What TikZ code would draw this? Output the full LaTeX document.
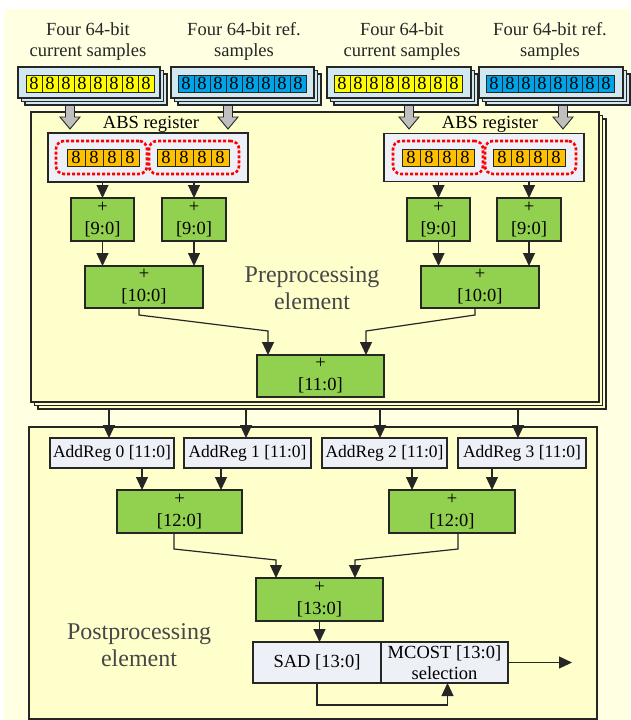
\documentclass[tikz,border=0pt]{standalone}
\usepackage{fontspec}
\setmainfont{Liberation Serif}
\usetikzlibrary{arrows.meta,calc}
\definecolor{bgout}{HTML}{FFFFE2}
\definecolor{bgin}{HTML}{FFFFCC}
\definecolor{smpbox}{HTML}{D2E8F0}
\definecolor{ycell}{HTML}{FFFF00}
\definecolor{bcell}{HTML}{00A2E8}
\definecolor{ocell}{HTML}{FFC000}
\definecolor{regfill}{HTML}{EEF0F7}
\definecolor{grn}{HTML}{92D050}
\definecolor{garr}{HTML}{BFBFBF}
\definecolor{edgec}{HTML}{262626}
\definecolor{lbl}{HTML}{474747}
\newcommand\grayarrow[1]{%
  \draw[draw=edgec,fill=garr,line width=0.9pt] (#1-4.5,96) -- (#1+4.5,96) -- (#1+4.5,117) -- (#1+10,117) -- (#1,129) -- (#1-10,117) -- (#1-4.5,117) -- cycle;}
\begin{document}
\begin{tikzpicture}[x=1pt,y=-1pt,
  line/.style={draw=edgec,line width=1.2pt},
  arr/.style={line,-{Triangle[length=13pt,width=12pt]}},
  box/.style={draw=edgec,line width=1.2pt,inner sep=0pt,outer sep=0pt,align=center},
  gbox/.style={box,fill=grn,font=\fontsize{18.5}{22}\selectfont},
  rbox/.style={box,fill=regfill,font=\fontsize{17.5}{21}\selectfont},
  smp/.style={box,fill=smpbox,minimum height=31pt},
  cell/.style={draw=edgec,line width=0.9pt,inner sep=0pt,outer sep=0pt,minimum height=17pt,font=\fontsize{18.5}{18}\selectfont},
  reddash/.style={draw=red,line width=2.6pt,dash pattern=on 3pt off 2pt,rounded corners=8pt,inner sep=0pt,minimum height=33pt},
  title/.style={align=center,font=\fontsize{18.5}{21}\selectfont,text=black!85},
  biglbl/.style={align=center,font=\fontsize{24}{27}\selectfont,text=lbl},
  pe/.style={box,fill=bgin,minimum width=568pt,minimum height=290pt}
]
\useasboundingbox (0,0) rectangle (630,720);
\fill[bgout] (4,9) rectangle (630,720);

% titles
\node[title] (t1) at (88,41.5) {Four 64-bit\\current samples};
\node[title] (t2) at (244,41.5) {Four 64-bit ref.\\samples};
\node[title] (t3) at (402,41.5) {Four 64-bit\\current samples};
\node[title] (t4) at (550,41.5) {Four 64-bit ref.\\samples};

% preprocessing element stack
\node[pe] (peb2) at (322,264) {};
\node[pe] (peb1) at (318.5,260.5) {};
\node[pe] (pe) at (315,257) {};

% gray arrows
\grayarrow{70}
\grayarrow{228}
\grayarrow{409}
\grayarrow{563}

% sample stacks
\foreach \nm/\cx/\w in {cl/89/142, rl/242.5/143, cr/399/144, rr/551/144}{
  \node[smp,minimum width=\w pt] (\nm b2) at (\cx+7,89.5) {};
  \node[smp,minimum width=\w pt] (\nm b1) at (\cx+3.5,86) {};
  \node[smp,minimum width=\w pt] (\nm) at (\cx,82.5) {};
}
\foreach \nm/\xs/\col in {cl/26/ycell, rl/178/bcell, cr/334/ycell, rr/486/bcell}{
  \foreach \i in {0,...,7}{
    \node[cell,fill=\col,minimum width=16pt] (\nm c\i) at (\xs+8+16*\i,83.5) {8};
  }
}

% ABS registers
\node[font=\fontsize{18.5}{21}\selectfont] (absl) at (151,124) {ABS register};
\node[font=\fontsize{18.5}{21}\selectfont] (absr) at (490,124) {ABS register};
\node[box,fill=regfill,minimum width=200pt,minimum height=49pt] (al) at (148,157.5) {};
\node[box,fill=regfill,minimum width=200pt,minimum height=48pt] (ar) at (484,157.5) {};
\node[reddash,minimum width=91pt] (d1) at (101.5,157.5) {};
\node[reddash,minimum width=90pt] (d2) at (194,157.5) {};
\node[reddash,minimum width=90pt] (d3) at (438,157.5) {};
\node[reddash,minimum width=91pt] (d4) at (530.5,157.5) {};
\foreach \nm/\xs in {o1/67, o2/157, o3/402, o4/493}{
  \foreach \i in {0,...,3}{
    \node[cell,fill=ocell,minimum width=18pt] (\nm c\i) at (\xs+9+18*\i,157.5) {8};
  }
}

% adders 9:0
\node[gbox,minimum width=63pt,minimum height=43pt] (n9a) at (102.5,219.5) {+\\{}[9:0]};
\node[gbox,minimum width=64pt,minimum height=43pt] (n9b) at (194,219.5) {+\\{}[9:0]};
\node[gbox,minimum width=63pt,minimum height=43pt] (n9c) at (438.5,219.5) {+\\{}[9:0]};
\node[gbox,minimum width=64pt,minimum height=43pt] (n9d) at (529,219.5) {+\\{}[9:0]};
\draw[arr] (n9a.north |- al.south) -- (n9a.north);
\draw[arr] (n9b.north |- al.south) -- (n9b.north);
\draw[arr] (n9c.north |- ar.south) -- (n9c.north);
\draw[arr] (n9d.north |- ar.south) -- (n9d.north);

% adders 10:0
\node[gbox,minimum width=118pt,minimum height=42pt] (n10a) at (144,287) {+\\{}[10:0]};
\node[gbox,minimum width=118pt,minimum height=42pt] (n10b) at (480,287) {+\\{}[10:0]};
\draw[arr] (n9a.south) -- (n9a.south |- n10a.north);
\draw[arr] (n9b.south) -- (n9b.south |- n10a.north);
\draw[arr] (n9c.south) -- (n9c.south |- n10b.north);
\draw[arr] (n9d.south) -- (n9d.south |- n10b.north);

% adder 11:0
\node[gbox,minimum width=127pt,minimum height=42pt] (n11) at (320.5,376) {+\\{}[11:0]};
\draw[arr] ($(n10a.south)+(-5,0)$) -- ++(0,7) -- ($(n11.north)+(-52.5,-24)$) -- ($(n11.north)+(-52.5,0)$);
\draw[arr] ($(n10b.south)+(-5,0)$) -- ++(0,7) -- ($(n11.north)+(45.5,-24)$) -- ($(n11.north)+(45.5,0)$);

\node[biglbl] (prelbl) at (312,288.5) {Preprocessing\\element};

% postprocessing element
\node[box,fill=bgin,minimum width=568pt,minimum height=292pt] (post) at (313,573) {};
\node[rbox,minimum width=124pt,minimum height=30pt] (r0) at (112,453) {AddReg 0 [11:0]};
\node[rbox,minimum width=127pt,minimum height=30pt] (r1) at (247.5,453) {AddReg 1 [11:0]};
\node[rbox,minimum width=125pt,minimum height=30pt] (r2) at (384.5,453) {AddReg 2 [11:0]};
\node[rbox,minimum width=128pt,minimum height=30pt] (r3) at (522,453) {AddReg 3 [11:0]};
\coordinate (s0) at (109,0);
\coordinate (s1) at (246,0);
\coordinate (s2) at (380,0);
\coordinate (s3) at (518,0);
\draw[arr] (s0 |- peb2.south) -- (s0 |- r0.north);
\draw[arr] (s1 |- peb2.south) -- (s1 |- r1.north);
\draw[arr] (s2 |- peb2.south) -- (s2 |- r2.north);
\draw[arr] (s3 |- peb2.south) -- (s3 |- r3.north);

\node[gbox,minimum width=125pt,minimum height=43pt] (n12a) at (179.5,511.5) {+\\{}[12:0]};
\node[gbox,minimum width=126pt,minimum height=43pt] (n12b) at (452,511.5) {+\\{}[12:0]};
\coordinate (u0) at (142,0);
\coordinate (u1) at (221,0);
\coordinate (u2) at (412,0);
\coordinate (u3) at (492,0);
\draw[arr] (u0 |- r0.south) -- (u0 |- n12a.north);
\draw[arr] (u1 |- r1.south) -- (u1 |- n12a.north);
\draw[arr] (u2 |- r2.south) -- (u2 |- n12b.north);
\draw[arr] (u3 |- r3.south) -- (u3 |- n12b.north);

\node[gbox,minimum width=127pt,minimum height=43pt] (n13) at (319.5,599.5) {+\\{}[13:0]};
\draw[arr] ($(n12a.south)+(-5.5,0)$) -- ++(0,16) -- ($(n13.north)+(-43.5,-18)$) -- ($(n13.north)+(-43.5,0)$);
\draw[arr] ($(n12b.south)+(6,0)$) -- ++(0,16) -- ($(n13.north)+(35.5,-18)$) -- ($(n13.north)+(35.5,0)$);

\node[rbox,minimum width=128pt,minimum height=41pt,font=\fontsize{18.5}{21}\selectfont] (sad) at (317,662.5) {SAD [13:0]};
\node[rbox,minimum width=127pt,minimum height=41pt,font=\fontsize{18.5}{21}\selectfont] (mcost) at (444.5,662.5) {MCOST [13:0]\\selection};
\draw[arr] (n13.south) -- (n13.south |- sad.north);
\coordinate (out) at (572,662.5);
\draw[arr] (mcost.east) -- (out);
\draw[arr] (sad.south) -- ++(0,22) -| ($(mcost.south)+(3,0)$);

\node[biglbl] (postlbl) at (139,645.5) {Postprocessing\\element};
\end{tikzpicture}
\end{document}
